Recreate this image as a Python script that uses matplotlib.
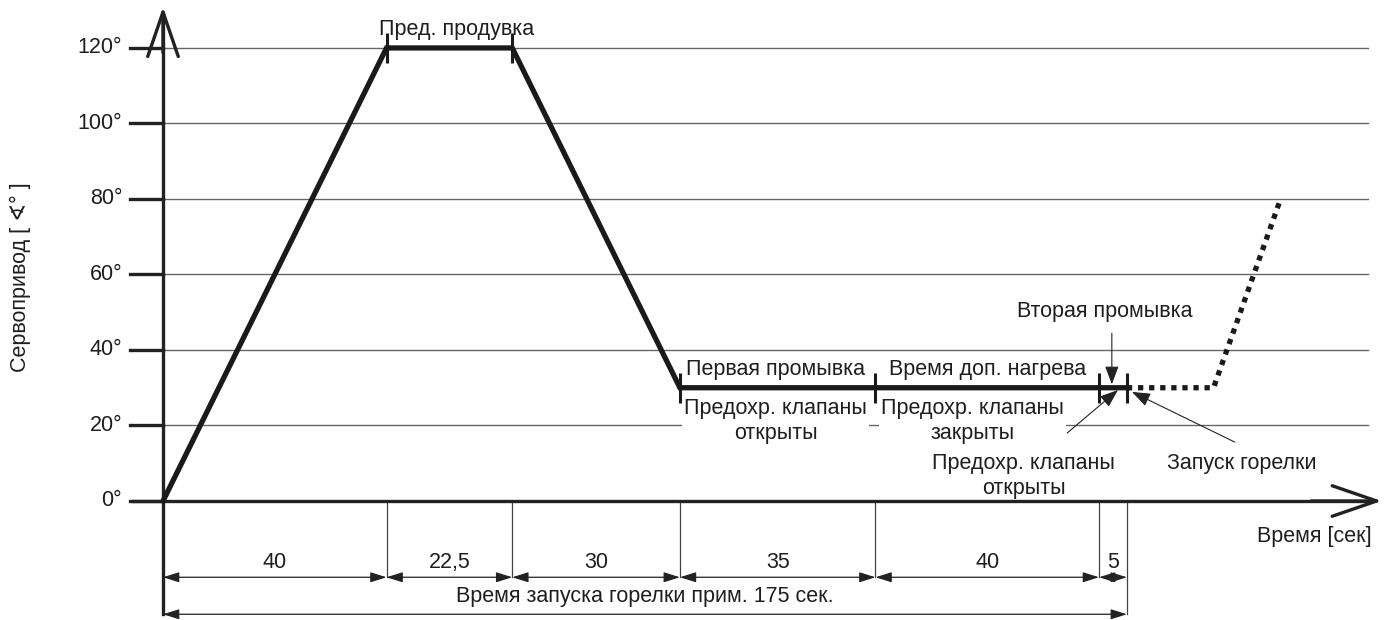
import matplotlib.pyplot as plt

plt.rcParams['font.family'] = ['Liberation Sans', 'DejaVu Sans']

# main curve: time [s] and servo angle [deg]
t_main = [0, 40, 62.5, 92.5, 127.5, 167.5, 172.5]
a_main = [0, 120, 120, 30, 30, 30, 30]
# dotted continuation after burner start
t_after = [172.5, 188, 200]
a_after = [30, 30, 80]

durations = [40, 22.5, 30, 35, 40, 5]
duration_labels = ['40', '22,5', '30', '35', '40', '5']
y_ticks = [0, 20, 40, 60, 80, 100, 120]
y_tick_labels = ['0°', '20°', '40°', '60°', '80°', '100°', '120°']

FS = 15.5
LS = 1.2
TXT = '#1e1e1e'
GRID_END = 215.6

fig = plt.figure(figsize=(13.89, 6.2), dpi=100)
ax = fig.add_axes([0, 0, 1, 1])
ax.set_xlim(-29.17, 219.4)
ax.set_ylim(-31.52, 132.7)
ax.axis('off')

# grid lines and y ticks
for y, lab in zip(y_ticks, y_tick_labels):
    if y > 0:
        ax.plot([0, GRID_END], [y, y], color='#666666', lw=1.0, zorder=1)
    ax.plot([-5.9, 0], [y, y], color='#222222', lw=2.4, zorder=3)
    ax.text(-7.3, y, lab, ha='right', va='center', fontsize=FS, color=TXT)

# axes with open arrow heads
ax.plot([-5.4, 216], [0, 0], color='#222222', lw=2.4, zorder=3)
ax.annotate('', xy=(218.6, 0), xytext=(205, 0),
            arrowprops=dict(arrowstyle='->,head_length=1.6,head_width=0.55',
                            color='#222222', lw=2.4, mutation_scale=20))
ax.plot([0, 0], [-30, 129], color='#222222', lw=2.4, zorder=3)
ax.annotate('', xy=(0, 131.6), xytext=(0, 118),
            arrowprops=dict(arrowstyle='->,head_length=1.6,head_width=0.55',
                            color='#222222', lw=2.4, mutation_scale=20))

ax.text(-25.6, 59.3, 'Сервопривод [ ∢° ]', rotation=90, ha='center', va='center',
        fontsize=FS, color=TXT)
ax.text(216.3, -9.5, 'Время [сек]', ha='right', va='center', fontsize=FS, color=TXT)

# curve
ax.plot(t_main, a_main, color='#1a1a1a', lw=3.8, solid_joinstyle='miter', zorder=4)
ax.plot(t_after, a_after, color='#1a1a1a', lw=3.8, linestyle=(0, (1, 1.1)),
        dash_capstyle='butt', zorder=4)
ax.plot(t_main[1:], a_main[1:], linestyle='none', marker='|', markersize=21,
        mew=2.2, color='#1a1a1a', zorder=5)

# phase labels
ax.text(52.6, 124.8, 'Пред. продувка', ha='center', va='center', fontsize=FS, color=TXT)
ax.text(109.6, 34.8, 'Первая промывка', ha='center', va='center', fontsize=FS, color=TXT)
ax.text(147.5, 34.8, 'Время доп. нагрева', ha='center', va='center', fontsize=FS, color=TXT)
box = dict(facecolor='white', edgecolor='none', pad=1.5)
ax.text(109.6, 21.2, 'Предохр. клапаны\nоткрыты', ha='center', va='center', fontsize=FS,
        color=TXT, linespacing=LS, bbox=box, zorder=2)
ax.text(144.8, 21.2, 'Предохр. клапаны\nзакрыты', ha='center', va='center', fontsize=FS,
        color=TXT, linespacing=LS, bbox=box, zorder=2)
ax.text(168.6, 50.3, 'Вторая промывка', ha='center', va='center', fontsize=FS, color=TXT)
ax.text(154.0, 6.6, 'Предохр. клапаны\nоткрыты', ha='center', va='center', fontsize=FS,
        color=TXT, linespacing=LS)
ax.text(193.0, 9.8, 'Запуск горелки', ha='center', va='center', fontsize=FS, color=TXT)

pointer = dict(arrowstyle='-|>,head_length=0.8,head_width=0.3', color='#222222',
               lw=0.8, mutation_scale=14, shrinkA=0, shrinkB=0)
ax.annotate('', xy=(169.8, 30.9), xytext=(169.8, 44.4), arrowprops=pointer)
ax.annotate('', xy=(170.9, 29.4), xytext=(161.8, 18.0), arrowprops=pointer)
ax.annotate('', xy=(173.4, 28.9), xytext=(191.8, 15.6), arrowprops=pointer)

# dimension lines below the axis
dim = dict(arrowstyle='<|-|>,head_length=0.7,head_width=0.22', color='#222222',
           lw=0.9, mutation_scale=14, shrinkA=0, shrinkB=0)
starts = [0]
for d in durations:
    starts.append(starts[-1] + d)
for i, t in enumerate(starts):
    low = -30 if i in (0, len(starts) - 1) else -20.2
    ax.plot([t, t], [0, low], color='#444444', lw=0.9, zorder=2)
for a, b, lab in zip(starts[:-1], starts[1:], duration_labels):
    ax.annotate('', xy=(b, -20.2), xytext=(a, -20.2), arrowprops=dim)
    ax.text((a + b) / 2, -16.2, lab, ha='center', va='center', fontsize=FS, color=TXT)
ax.annotate('', xy=(starts[-1], -30), xytext=(0, -30), arrowprops=dim)
ax.text(starts[-1] / 2, -25.4, 'Время запуска горелки прим. 175 сек.', ha='center',
        va='center', fontsize=FS, color=TXT)

fig.savefig('out.png', dpi=100)
